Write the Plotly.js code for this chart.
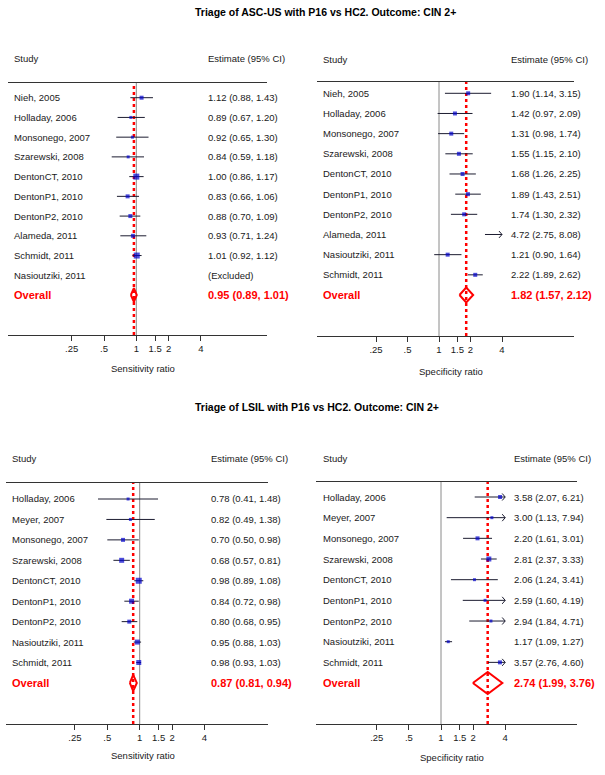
<!DOCTYPE html>
<html><head><meta charset="utf-8">
<script src="https://cdn.plot.ly/plotly-3.0.1.min.js"></script>
<style>html,body{margin:0;padding:0;background:#fff}</style>
</head><body><div id="chart" style="width:605px;height:775px"></div>
<script>
// ---------- DATA ----------
const titleTop = "Triage of ASC-US with P16 vs HC2. Outcome: CIN 2+";
const titleBottom = "Triage of LSIL with P16 vs HC2. Outcome: CIN 2+";
const sensTitle = "Sensitivity ratio";
const specTitle = "Specificity ratio";
const tickVals = [0.25, 0.5, 1, 1.5, 2, 4];
const tickText = [".25", ".5", "1", "1.5", "2", "4"];

const ascSensStudies = ["Nieh, 2005","Holladay, 2006","Monsonego, 2007","Szarewski, 2008","DentonCT, 2010","DentonP1, 2010","DentonP2, 2010","Alameda, 2011","Schmidt, 2011","Nasioutziki, 2011"];
const ascSensEst = [1.12, 0.89, 0.92, 0.84, 1.00, 0.83, 0.88, 0.93, 1.01, null];
const ascSensLo  = [0.88, 0.67, 0.65, 0.59, 0.86, 0.66, 0.70, 0.71, 0.92, null];
const ascSensHi  = [1.43, 1.20, 1.30, 1.18, 1.17, 1.06, 1.09, 1.24, 1.12, null];
const ascSensOverall = [0.95, 0.89, 1.01];

const ascSpecStudies = ["Nieh, 2005","Holladay, 2006","Monsonego, 2007","Szarewski, 2008","DentonCT, 2010","DentonP1, 2010","DentonP2, 2010","Alameda, 2011","Nasioutziki, 2011","Schmidt, 2011"];
const ascSpecEst = [1.90, 1.42, 1.31, 1.55, 1.68, 1.89, 1.74, 4.72, 1.21, 2.22];
const ascSpecLo  = [1.14, 0.97, 0.98, 1.15, 1.26, 1.43, 1.30, 2.75, 0.90, 1.89];
const ascSpecHi  = [3.15, 2.09, 1.74, 2.10, 2.25, 2.51, 2.32, 8.08, 1.64, 2.62];
const ascSpecOverall = [1.82, 1.57, 2.12];

const lsilStudies = ["Holladay, 2006","Meyer, 2007","Monsonego, 2007","Szarewski, 2008","DentonCT, 2010","DentonP1, 2010","DentonP2, 2010","Nasioutziki, 2011","Schmidt, 2011"];
const lsilSensEst = [0.78, 0.82, 0.70, 0.68, 0.98, 0.84, 0.80, 0.95, 0.98];
const lsilSensLo  = [0.41, 0.49, 0.50, 0.57, 0.89, 0.72, 0.68, 0.88, 0.93];
const lsilSensHi  = [1.48, 1.38, 0.98, 0.81, 1.08, 0.98, 0.95, 1.03, 1.03];
const lsilSensOverall = [0.87, 0.81, 0.94];

const lsilSpecEst = [3.58, 3.00, 2.20, 2.81, 2.06, 2.59, 2.94, 1.17, 3.57];
const lsilSpecLo  = [2.07, 1.13, 1.61, 2.37, 1.24, 1.60, 1.84, 1.09, 2.76];
const lsilSpecHi  = [6.21, 7.94, 3.01, 3.33, 3.41, 4.19, 4.71, 1.27, 4.60];
const lsilSpecOverall = [2.74, 1.99, 3.76];

// ---------- LAYOUT / STYLE ----------
const W = 605, H = 775;
const FONT = "Liberation Sans, Arial, Helvetica, sans-serif";
const TXT = "#1a1a1a";
const RED = "#ff0000";
const BLUE = "#0000cc";
const CILINE = "#1c1c30";

const panels = [
  {studies: ascSensStudies, est: ascSensEst, lo: ascSensLo, hi: ascSensHi, overall: ascSensOverall, xtitle: sensTitle,
   px: [8, 267], one: 136.3, dbl: 32.3, header: 83, axis: 335, row0: 97.7, pitch: 19.73,
   studyX: 11.7, estX: 205.7, headY: 58.3, titleX: 142.5, titleY: 368, dh: 0.35,
   box: [4,3,3,3,6,4,4,4,6,0]},
  {studies: ascSpecStudies, est: ascSpecEst, lo: ascSpecLo, hi: ascSpecHi, overall: ascSpecOverall, xtitle: specTitle,
   px: [317, 574], one: 439, dbl: 31.5, header: 82, axis: 336, row0: 93.3, pitch: 20.17,
   studyX: 320.7, estX: 509, headY: 59, titleX: 451, titleY: 371, dh: 0.37,
   box: [4,4,4,4,4,4,4,4,4,4]},
  {studies: lsilStudies, est: lsilSensEst, lo: lsilSensLo, hi: lsilSensHi, overall: lsilSensOverall, xtitle: sensTitle,
   px: [6, 268], one: 139.7, dbl: 32.4, header: 483, axis: 724, row0: 499, pitch: 20.44,
   studyX: 10.3, estX: 209, headY: 458.5, titleX: 142.5, titleY: 755, dh: 0.4,
   box: [3,3,4,5,6,5,4,5,5]},
  {studies: lsilStudies, est: lsilSpecEst, lo: lsilSpecLo, hi: lsilSpecHi, overall: lsilSpecOverall, xtitle: specTitle,
   px: [316, 577], one: 441, dbl: 32.1, header: 482, axis: 724, row0: 497, pitch: 20.67,
   studyX: 321, estX: 512, headY: 458, titleX: 452, titleY: 757, dh: 0.53,
   box: [4,3,4,5,3,3,3,3,4]}
];

const fmt = v => v.toFixed(2);
const clipLo = Math.min(...tickVals), clipHi = Math.max(...tickVals);
const L2 = Math.log10(2);

const traces = [];
const annotations = [];
const layout = {
  width: W, height: H,
  margin: {l: 0, r: 0, t: 0, b: 0},
  paper_bgcolor: "#fff", plot_bgcolor: "rgba(0,0,0,0)",
  showlegend: false,
  font: {family: FONT, size: 9.5, color: TXT},
  annotations: annotations
};

panels.forEach((p, i) => {
  const n = i + 1;
  const xa = n === 1 ? "x" : "x" + n, ya = n === 1 ? "y" : "y" + n;
  const xk = n === 1 ? "xaxis" : "xaxis" + n, yk = n === 1 ? "yaxis" : "yaxis" + n;
  const yTop = (p.header - p.row0) / p.pitch;
  const yBot = (p.axis - p.row0) / p.pitch;
  layout[xk] = {
    type: "log",
    domain: [p.px[0] / W, p.px[1] / W],
    range: [(p.px[0] - p.one) / p.dbl * L2, (p.px[1] - p.one) / p.dbl * L2],
    anchor: ya, showline: true, mirror: true, linecolor: "#333", linewidth: 1,
    ticks: "outside", ticklen: 5, tickwidth: 1, tickcolor: "#333",
    tickvals: tickVals, ticktext: tickText,
    tickfont: {family: FONT, size: 9.5, color: TXT},
    showgrid: false, zeroline: false, fixedrange: true
  };
  layout[yk] = {
    domain: [1 - p.axis / H, 1 - p.header / H],
    range: [yBot, yTop], anchor: xa,
    showline: false, showticklabels: false, showgrid: false, zeroline: false,
    ticks: "", fixedrange: true
  };
  const nS = p.studies.length;
  const overRow = nS;
  // null line at 1
  traces.push({type: "scatter", mode: "lines", x: [1, 1], y: [yBot, yTop], xaxis: xa, yaxis: ya,
    line: {color: "#8a8a8a", width: 1}, hoverinfo: "skip", cliponaxis: true});
  // overall dotted line
  traces.push({type: "scatter", mode: "lines", x: [p.overall[0], p.overall[0]], y: [yBot, yTop], xaxis: xa, yaxis: ya,
    line: {color: RED, width: 2.5, dash: "dot"}, hoverinfo: "skip"});
  // CI lines with clipping arrows
  const cx = [], cy = [];
  const f = Math.pow(2, 3 / p.dbl);
  for (let k = 0; k < nS; k++) {
    if (p.est[k] === null) continue;
    const a = Math.max(p.lo[k], clipLo), b = Math.min(p.hi[k], clipHi);
    cx.push(a, b, null); cy.push(k, k, null);
    if (p.hi[k] > clipHi) {
      cx.push(clipHi / f, clipHi, clipHi / f, null);
      cy.push(k - 0.17, k, k + 0.17, null);
    }
    if (p.lo[k] < clipLo) {
      cx.push(clipLo * f, clipLo, clipLo * f, null);
      cy.push(k - 0.17, k, k + 0.17, null);
    }
  }
  traces.push({type: "scatter", mode: "lines", x: cx, y: cy, xaxis: xa, yaxis: ya,
    line: {color: CILINE, width: 1}, hoverinfo: "skip", connectgaps: false});
  // markers
  const mx = [], my = [], ms = [];
  for (let k = 0; k < nS; k++) {
    const e = p.est[k];
    if (e === null || e < clipLo || e > clipHi) continue;
    mx.push(e); my.push(k); ms.push(p.box[k]);
  }
  traces.push({type: "scatter", mode: "markers", x: mx, y: my, xaxis: xa, yaxis: ya,
    marker: {symbol: "square", color: BLUE, size: ms, line: {width: 0}}, hoverinfo: "skip"});
  // diamond
  const [oe, ol, oh] = p.overall;
  traces.push({type: "scatter", mode: "lines", x: [ol, oe, oh, oe, ol], y: [overRow, overRow - p.dh, overRow, overRow + p.dh, overRow],
    xaxis: xa, yaxis: ya, line: {color: RED, width: 2}, hoverinfo: "skip"});

  // text columns
  const hdr = (txt, x, y) => annotations.push({text: txt, xref: "paper", yref: "paper", x: x / W, y: 1 - y / H,
    xanchor: "left", yanchor: "middle", showarrow: false, font: {family: FONT, size: 9.5, color: TXT}});
  hdr("Study", p.studyX, p.headY);
  hdr("Estimate (95% CI)", p.estX, p.headY);
  for (let k = 0; k < nS; k++) {
    annotations.push({text: p.studies[k], xref: "paper", yref: ya, x: p.studyX / W, y: k,
      xanchor: "left", yanchor: "middle", showarrow: false, font: {family: FONT, size: 9.5, color: TXT}});
    const t = p.est[k] === null ? "(Excluded)" : fmt(p.est[k]) + " (" + fmt(p.lo[k]) + ", " + fmt(p.hi[k]) + ")";
    annotations.push({text: t, xref: "paper", yref: ya, x: p.estX / W, y: k,
      xanchor: "left", yanchor: "middle", showarrow: false, font: {family: FONT, size: 9.5, color: TXT}});
  }
  annotations.push({text: "<b>Overall</b>", xref: "paper", yref: ya, x: p.studyX / W, y: overRow,
    xanchor: "left", yanchor: "middle", showarrow: false, font: {family: FONT, size: 11, color: RED}});
  annotations.push({text: "<b>" + fmt(oe) + " (" + fmt(ol) + ", " + fmt(oh) + ")</b>", xref: "paper", yref: ya, x: p.estX / W, y: overRow,
    xanchor: "left", yanchor: "middle", showarrow: false, font: {family: FONT, size: 11, color: RED}});
  // axis title
  annotations.push({text: p.xtitle, xref: "paper", yref: "paper", x: p.titleX / W, y: 1 - p.titleY / H,
    xanchor: "center", yanchor: "middle", showarrow: false, font: {family: FONT, size: 9.5, color: TXT}});
});

// main titles
annotations.push({text: "<b>" + titleTop + "</b>", xref: "paper", yref: "paper", x: 193 / W, y: 1 - 12.5 / H,
  xanchor: "left", yanchor: "middle", showarrow: false, font: {family: FONT, size: 10.5, color: "#000"}});
annotations.push({text: "<b>" + titleBottom + "</b>", xref: "paper", yref: "paper", x: 193 / W, y: 1 - 407.5 / H,
  xanchor: "left", yanchor: "middle", showarrow: false, font: {family: FONT, size: 10.5, color: "#000"}});

Plotly.newPlot("chart", traces, layout, {staticPlot: true, displayModeBar: false});
</script>
</body></html>
